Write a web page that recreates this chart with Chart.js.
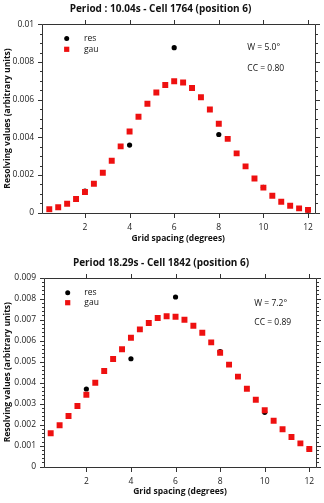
<!DOCTYPE html>
<html><head><meta charset="utf-8">
<script src="https://cdn.jsdelivr.net/npm/chart.js@4/dist/chart.umd.min.js"></script>
<style>
html,body{margin:0;padding:0;background:#fff;}
#w{position:relative;width:324px;height:503px;overflow:hidden;}
canvas{position:absolute;left:0;}
</style></head><body>
<div id="w">
<canvas id="c1" width="324" height="250" style="top:0"></canvas>
<canvas id="c2" width="324" height="253" style="top:250px"></canvas>
</div>
<script>
// ---- data ----
const gridX = [0.4,0.8,1.2,1.6,2.0,2.4,2.8,3.2,3.6,4.0,4.4,4.8,5.2,5.6,6.0,6.4,6.8,7.2,7.6,8.0,8.4,8.8,9.2,9.6,10.0,10.4,10.8,11.2,11.6,12.0];
const resX = [2,4,6,8,10,12];

const gau1 = [0.00018,0.00029,0.00048,0.00073,0.00110,0.00154,0.00212,0.00276,0.00352,0.00431,0.00509,0.00578,0.00638,0.00678,0.00698,0.00691,0.00662,0.00613,0.00548,0.00472,0.00392,0.00315,0.00246,0.00182,0.00133,0.00090,0.00058,0.00037,0.00023,0.00014];
const res1 = [0.00115,0.00359,0.00876,0.00415,0.00135,0.00012];

const gau2 = [0.00159,0.00197,0.00241,0.00289,0.00343,0.00400,0.00456,0.00513,0.00559,0.00614,0.00654,0.00684,0.00708,0.00716,0.00714,0.00700,0.00671,0.00638,0.00592,0.00543,0.00486,0.00429,0.00371,0.00319,0.00269,0.00219,0.00178,0.00141,0.00111,0.00084];
const res2 = [0.00370,0.00514,0.00808,0.00548,0.00259,0.00084];

const seriesLabels = ["res","gau"];
const xTicks = [2,4,6,8,10,12];
const xTickLabels = ["2","4","6","8","10","12"];
const yTicks1 = [0,0.002,0.004,0.006,0.008,0.01];
const yTickLabels1 = ["0","0.002","0.004","0.006","0.008","0.01"];
const yMinorStep1 = 0.0005;
const yTicks2 = [0,0.001,0.002,0.003,0.004,0.005,0.006,0.007,0.008,0.009];
const yTickLabels2 = ["0","0.001","0.002","0.003","0.004","0.005","0.006","0.007","0.008","0.009"];
const yMinorStep2 = 0.0002;
const titles = ["Period : 10.04s - Cell 1764 (position 6)","Period 18.29s - Cell 1842 (position 6)"];
const xTitle = "Grid spacing (degrees)";
const yTitle = "Resolving values (arbitrary units)";
const notes1 = ["W = 5.0\u00B0","CC = 0.80"];
const notes2 = ["W = 7.2\u00B0","CC = 0.89"];

// ---- styling / helpers ----
const FONT = "'Open Sans', 'Noto Sans', sans-serif";
Chart.defaults.font.family = FONT;
Chart.defaults.color = '#222';
const AXIS = '#333';

function pts(xs, ys){ return xs.map((x,i)=>({x:x, y:ys[i]})); }

const framePlugin = {
  id:'frame',
  beforeDatasetsDraw(chart, args, o){
    const {ctx, chartArea:a, scales} = chart;
    const x = scales.x, y = scales.y;
    ctx.save();
    ctx.strokeStyle = AXIS; ctx.lineWidth = 1;
    const L = Math.round(a.left)+0.5, R = Math.round(a.right)+0.5, T = Math.round(a.top)+0.5, B = Math.round(a.bottom)+0.5;
    ctx.beginPath();
    ctx.rect(L, T, R-L, B-T);
    // x majors top and bottom (outward)
    o.xMajor.forEach(v=>{
      const p = Math.round(x.getPixelForValue(v))+0.5;
      ctx.moveTo(p,B); ctx.lineTo(p,B+4.5);
      ctx.moveTo(p,T); ctx.lineTo(p,T-4.5);
    });
    // y majors
    o.yMajor.forEach(v=>{
      const p = Math.round(y.getPixelForValue(v))+0.5;
      ctx.moveTo(L-4.5,p); ctx.lineTo(L,p);
      ctx.moveTo(R,p); ctx.lineTo(R+4.5,p);
    });
    // y minors
    const maxV = y.max;
    for(let k=1; k*o.yMinor < maxV + 1e-12; k++){
      const v = k*o.yMinor;
      if (o.yMajor.some(m=>Math.abs(m-v)<1e-9)) continue;
      const p = Math.round(y.getPixelForValue(v))+0.5;
      ctx.moveTo(L-2.5,p); ctx.lineTo(L,p);
      ctx.moveTo(R,p); ctx.lineTo(R+2.5,p);
    }
    ctx.stroke();
    ctx.restore();
  },
  afterDatasetsDraw(chart, args, o){
    const {ctx, chartArea:a} = chart;
    ctx.save();
    ctx.font = "8.5px " + FONT;
    ctx.fillStyle = '#111';
    ctx.textBaseline = 'middle';
    ctx.textAlign = 'left';
    // legend (drawn from datasets)
    const ds = chart.data.datasets;
    o.legendOrder.forEach((idx, i)=>{
      const d = ds[idx];
      const cx = a.left + o.legend.dx, cy = a.top + o.legend.dy + i*o.legend.row;
      ctx.fillStyle = d.backgroundColor;
      if (d.pointStyle === 'rect'){
        ctx.fillRect(cx-2.6, cy-2.6, 5.2, 5.2);
      } else {
        ctx.beginPath(); ctx.arc(cx, cy, 2.5, 0, Math.PI*2); ctx.fill();
      }
      ctx.fillStyle = '#111';
      ctx.fillText(d.label, a.left + o.legend.tx, cy);
    });
    // notes
    o.notes.forEach((t,i)=>{
      ctx.fillText(t, o.noteX, o.noteY[i]);
    });
    ctx.restore();
  }
};

function makeChart(id, gau, res, yTicks, yLabels, yMinor, yMax, xMin, title, notes, cfg){
  return new Chart(document.getElementById(id), {
    type:'scatter',
    data:{datasets:[
      {label:seriesLabels[0], data:pts(resX,res), pointStyle:'circle', pointRadius:2.6, pointHoverRadius:2.6,
       backgroundColor:'#000', borderWidth:0, order:1},
      {label:seriesLabels[1], data:pts(gridX,gau), pointStyle:'rect', pointRadius:4.2, pointHoverRadius:4.2,
       backgroundColor:'rgb(238,16,16)', borderWidth:0, order:0}
    ]},
    options:{
      responsive:false, animation:false, devicePixelRatio:1,
      layout:{padding:{left:0, right:cfg.padRight, top:0, bottom:0}},
      plugins:{
        legend:{display:false}, tooltip:{enabled:false},
        title:{display:true, text:title, color:'#111',
          font:{size:10, weight:'bold', family:FONT, lineHeight:1.2},
          padding:{top:cfg.titleTop, bottom:cfg.titleBottom}},
        frame:{xMajor:xTicks, yMajor:yTicks, yMinor:yMinor, legendOrder:[0,1],
          legend:cfg.legend, notes:notes, noteX:cfg.noteX, noteY:cfg.noteY}
      },
      scales:{
        x:{type:'linear', position:'bottom', min:xMin, max:12.3,
          afterBuildTicks(s){ s.ticks = xTicks.map(v=>({value:v})); },
          afterFit(s){ s.height = cfg.xHeight; },
          grid:{display:false, drawTicks:false}, border:{display:false},
          ticks:{padding:9.5, font:{size:8.5}, color:'#222', maxRotation:0,
            callback:(v)=>{const i=xTicks.indexOf(v); return i>=0?xTickLabels[i]:'';}},
          title:{display:true, text:xTitle, color:'#111', font:{size:8.5, weight:'bold', lineHeight:1.2}, padding:{top:0,bottom:6.5}}
        },
        y:{type:'linear', position:'left', min:0, max:yMax,
          afterBuildTicks(s){ s.ticks = yTicks.map(v=>({value:v})); },
          afterFit(s){ s.width = cfg.yWidth; },
          grid:{display:false, drawTicks:false}, border:{display:false},
          ticks:{padding:cfg.yPad, font:{size:8.5}, color:'#222',
            callback:(v)=>{const i=yTicks.findIndex(t=>Math.abs(t-v)<1e-9); return i>=0?yLabels[i]:'';}},
          title:{display:true, text:yTitle, color:'#111', font:{size:8.5, weight:'bold', lineHeight:1.2}, padding:{top:2,bottom:0}}
        },
        yR:{type:'linear', position:'right', display:true,
          afterFit(s){ s.width = cfg.rightW; },
          grid:{display:false, drawTicks:false}, border:{display:false}, ticks:{display:false}}
      }
    },
    plugins:[framePlugin]
  });
}

makeChart('c1', gau1, res1, yTicks1, yTickLabels1, yMinorStep1, 0.01, 0.06, titles[0], notes1, {
  padRight:3, rightW:6.3, titleTop:3.5, titleBottom:8.8, xHeight:37.3, yWidth:41.7, yPad:7.5,
  legend:{dx:25, dy:14.3, row:10.7, tx:42.3}, noteX:247.3, noteY:[47.5,69]
});
makeChart('c2', gau2, res2, yTicks2, yTickLabels2, yMinorStep2, 0.009, 0.1, titles[1], notes2, {
  padRight:2, rightW:6, titleTop:7, titleBottom:8.7, xHeight:36.3, yWidth:44, yPad:8,
  legend:{dx:23.7, dy:15, row:10, tx:40.3}, noteX:254.3, noteY:[54,72.7]
});
</script>
</body></html>
